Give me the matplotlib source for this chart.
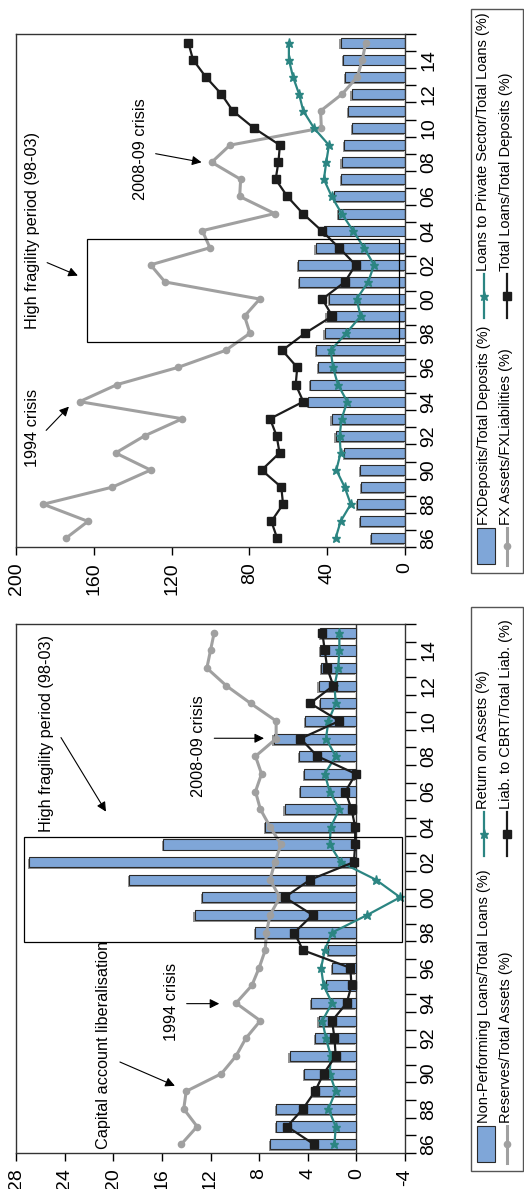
import numpy as np
import matplotlib
matplotlib.use("Agg")
import matplotlib.pyplot as plt
from matplotlib.patches import Rectangle
from matplotlib import patheffects

plt.rcParams['font.family'] = ['Liberation Sans', 'DejaVu Sans']

# ── Data ─────────────────────────────────────────────────────
years = list(range(1986, 2016))
year_labels = ['86', '88', '90', '92', '94', '96', '98', '00', '02', '04', '06', '08', '10', '12', '14']

# lower panel (banking sector soundness)
npl = [7.1, 6.6, 6.6, 3.6, 4.3, 5.5, 3.4, 3.1, 3.7, 2.5, 2.0, 2.3, 8.3, 13.3, 12.7,
       18.7, 26.9, 15.9, 7.5, 5.9, 4.6, 4.3, 4.7, 6.8, 4.2, 3.0, 3.1, 2.9, 3.0, 3.0]
roa = [1.8, 1.7, 2.3, 1.7, 2.2, 2.1, 2.5, 2.8, 2.0, 2.7, 2.9, 2.6, 2.0, -0.9, -3.6,
       -1.6, 1.3, 2.2, 2.1, 1.4, 2.2, 2.6, 1.7, 2.5, 2.3, 1.7, 1.8, 1.5, 1.4, 1.4]
cbrt = [3.5, 5.7, 4.4, 3.4, 2.7, 1.7, 1.8, 2.0, 0.8, 0.4, 0.5, 4.4, 5.1, 3.6, 5.9,
        3.8, 0.2, 0.1, 0.1, 0.4, 0.9, 0.05, 3.2, 4.6, 1.4, 3.8, 1.9, 2.4, 2.6, 2.8]
reserves = [14.4, 13.1, 14.2, 14.0, 11.1, 9.9, 9.1, 7.9, 9.9, 8.6, 8.0, 7.5, 7.4, 7.1, 6.3,
            7.1, 6.7, 6.2, 7.1, 7.9, 8.3, 7.8, 8.3, 6.6, 6.6, 8.7, 10.7, 12.3, 12.0, 11.7]
bot_ticks = [28, 24, 20, 16, 12, 8, 4, 0, -4]
bot_labels = ['Non-Performing Loans/Total Loans (%)', 'Return on Assets (%)',
              'Reserves/Total Assets (%)', 'Liab. to CBRT/Total Liab. (%)']

# upper panel (FX and loans)
fx_dep = [17.3, 23.1, 24.5, 22.5, 23.1, 31.4, 35.7, 37.7, 49.7, 48.9, 44.6, 45.6, 41.3, 40.3, 39.1,
          54.5, 54.9, 45.9, 41.7, 34.3, 36.5, 32.7, 32.6, 31.4, 27.1, 29.1, 27.4, 30.9, 31.9, 33.1]
priv = [35.7, 33.1, 27.9, 31.0, 35.3, 33.1, 33.6, 32.6, 29.7, 34.5, 37.0, 38.2, 30.2, 22.8, 24.9,
        18.9, 15.9, 21.1, 26.7, 32.6, 37.7, 41.7, 40.5, 39.1, 46.8, 52.3, 54.5, 57.6, 59.7, 59.7]
loan_dep = [65.7, 68.7, 62.7, 63.6, 73.7, 64.5, 66.0, 69.4, 52.3, 56.2, 55.4, 63.1, 51.4, 37.4, 42.5,
            30.9, 25.4, 33.9, 42.9, 52.5, 60.5, 66.5, 65.1, 64.3, 77.7, 88.5, 94.5, 102.5, 109.0, 111.4]
fx_assets = [174.5, 163.0, 186.0, 150.5, 130.8, 148.8, 133.9, 114.5, 167.3, 148.0, 116.8, 92.2, 79.7, 82.5, 74.7,
             123.4, 130.8, 100.3, 104.2, 67.0, 85.0, 84.5, 99.4, 90.0, 43.0, 43.4, 32.2, 24.5, 21.9, 20.2]
top_ticks = [200, 160, 120, 80, 40, 0]
top_labels = ['FXDeposits/Total Deposits (%)', 'Loans to Private Sector/Total Loans (%)',
              'FX Assets/FXLiabilities (%)', 'Total Loans/Total Deposits (%)']

# ── Styles ───────────────────────────────────────────────────
BAR = '#7fa6d8'
EDGE = '#2a2a2a'
TEAL = '#2b8582'
GREY = '#a0a0a0'
BLACK = '#1c1c1c'
TICK_FS = 14
NOTE_FS = 11.7
LEG_FS = 10.5

W, H = 524, 1189
fig = plt.figure(figsize=(W / 100, H / 100), dpi=100)


def px_axes(x0, y0, x1, y1):
    return fig.add_axes([x0 / W, 1 - y1 / H, (x1 - x0) / W, (y1 - y0) / H])


def line_style(color):
    if color == TEAL:
        return dict(color=TEAL, lw=1.6, marker='*', ms=6.5, mec=TEAL)
    if color == GREY:
        return dict(color=GREY, lw=2.2, marker='o', ms=4.5, mec=GREY)
    return dict(color=BLACK, lw=1.6, marker='s', ms=5.5, mec=BLACK)


def panel(ax, bars, grey, teal, black, xlim, ticks):
    shadow = [patheffects.SimplePatchShadow(offset=(-1, -1.3), shadow_rgbFace='#8a8a8a', alpha=0.9),
              patheffects.Normal()]
    ax.barh(years, bars, height=0.58, color=BAR, edgecolor=EDGE, linewidth=0.8,
            path_effects=shadow, zorder=2)
    ax.plot(grey, years, zorder=3, **line_style(GREY))
    ax.plot(teal, years, zorder=4, **line_style(TEAL))
    ax.plot(black, years, zorder=5, **line_style(BLACK))

    ax.set_xlim(*xlim)
    ax.set_ylim(1985.5, 2015.5)
    ax.set_xticks(ticks)
    ax.set_xticklabels([str(t) for t in ticks], rotation=90, fontsize=TICK_FS)
    ax.tick_params(axis='x', direction='out', length=6, width=1, pad=5)

    ax.yaxis.tick_right()
    ax.set_yticks(np.arange(1985.5, 2016, 1.0))
    ax.set_yticklabels([])
    ax.set_yticks(years[::2], minor=True)
    ax.set_yticklabels(year_labels, minor=True, rotation=90, va='center', fontsize=TICK_FS)
    ax.tick_params(axis='y', which='major', direction='out', length=8, width=1)
    ax.tick_params(axis='y', which='minor', length=0, pad=11)
    for s in ax.spines.values():
        s.set_linewidth(1)
        s.set_color('#333333')


def note(ax, x, y, s):
    ax.text(x, y, s, rotation=90, ha='center', va='center', fontsize=NOTE_FS, zorder=6)


def arrow(ax, start, end):
    ax.annotate('', xy=end, xytext=start, zorder=6,
                arrowprops=dict(arrowstyle='-|>', color='k', lw=0.8, mutation_scale=14,
                                shrinkA=0, shrinkB=0))


# ── Upper panel ──────────────────────────────────────────────
ax_top = px_axes(16, 34, 405, 547)
panel(ax_top, fx_dep, fx_assets, priv, loan_dep, (200, 0), top_ticks)
ax_top.add_patch(Rectangle((3.1, 1997.46), 160.6, 6.03, fill=False, ec='k', lw=0.9, zorder=6))
note(ax_top, 191.7, 1992.44, '1994 crisis')
arrow(ax_top, (184.5, 1992.32), (172.8, 1993.71))
note(ax_top, 191.7, 2003.99, 'High fragility period (98-03)')
arrow(ax_top, (184.0, 2002.13), (168.2, 2001.37))
note(ax_top, 136.0, 2008.74, '2008-09 crisis')
arrow(ax_top, (128.2, 2008.5), (104.6, 2008.0))

# ── Lower panel ──────────────────────────────────────────────
ax_bot = px_axes(16, 624, 405, 1153)
panel(ax_bot, npl, reserves, roa, cbrt, (28, -4), bot_ticks)
ax_bot.axvline(0, color='#333333', lw=1, zorder=1.5)
ax_bot.add_patch(Rectangle((-3.75, 1997.45), 31.12, 5.98, fill=False, ec='k', lw=0.9, zorder=6))
note(ax_bot, 20.8, 1991.6, 'Capital account liberalisation')
arrow(ax_bot, (19.45, 1990.66), (14.93, 1989.31))
note(ax_bot, 15.2, 1994.07, '1994 crisis')
arrow(ax_bot, (13.96, 1993.97), (11.28, 1993.97))
note(ax_bot, 13.0, 2008.6, '2008-09 crisis')
arrow(ax_bot, (11.69, 2009.02), (7.6, 2009.02))
note(ax_bot, 25.5, 2009.29, 'High fragility period (98-03)')
arrow(ax_bot, (24.3, 2009.06), (20.6, 2004.86))

# ── Legends (drawn by hand, rotated) ─────────────────────────
ax_leg = fig.add_axes([0, 0, 1, 1])
ax_leg.set_xlim(0, W)
ax_leg.set_ylim(H, 0)
ax_leg.axis('off')


def legend(labels, y_top, y_bot, y_second):
    ax_leg.add_patch(Rectangle((470.5, y_top), 52, y_bot - y_top, fill=False, ec='#555555', lw=1))
    # column 1: bar + grey line
    ax_leg.add_patch(Rectangle((477, y_bot - 45), 18, 36, fc=BAR, ec=EDGE, lw=0.8))
    ax_leg.text(484, y_bot - 48, labels[0], rotation=90, ha='center', va='bottom', fontsize=LEG_FS)
    ax_leg.plot([507, 507], [y_bot - 8, y_bot - 45], **line_style(GREY), markevery=[])
    ax_leg.plot([507], [y_bot - 27], **line_style(GREY))
    ax_leg.text(506, y_bot - 48, labels[2], rotation=90, ha='center', va='bottom', fontsize=LEG_FS)
    # column 2: teal + black line
    for x, c, lab in [(484, TEAL, labels[1]), (507, BLACK, labels[3])]:
        ax_leg.plot([x, x], [y_second, y_second - 44], **line_style(c), markevery=[])
        ax_leg.plot([x], [y_second - 22], **line_style(c))
        ax_leg.text(x - 1, y_second - 47, lab, rotation=90, ha='center', va='bottom', fontsize=LEG_FS)


legend(top_labels, 9, 573, 318)
legend(bot_labels, 607, 1171, 856)

fig.savefig("out.png", dpi=100)
